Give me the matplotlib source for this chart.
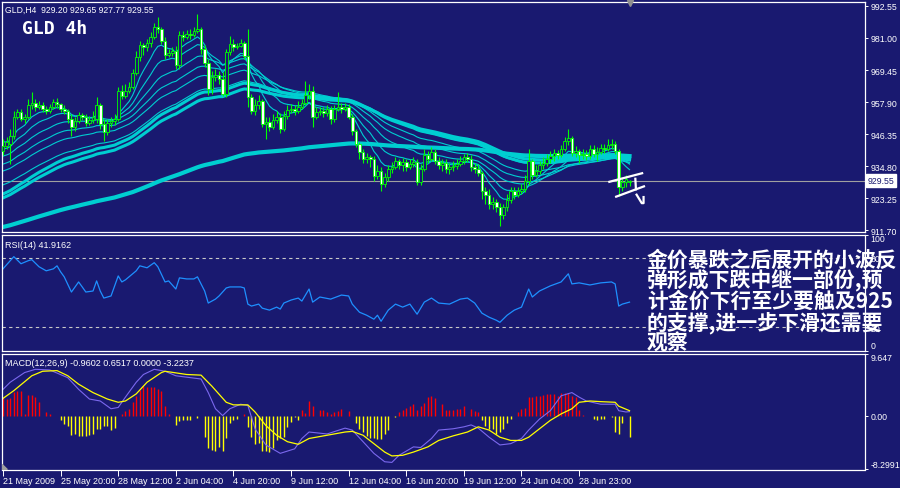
import matplotlib.pyplot as plt
from matplotlib.patches import Rectangle, Polygon

W, H = 900, 489
BG = '#191970'
CANDLE = '#00ff00'
MA_COLOR = '#00ced1'

# ---- price data (4h bars, GLD) ----
opens = [940.2, 942.0, 942.7, 945.6, 952.5, 954.3, 951.8, 952.5, 956.8, 957.5,
         956.1, 956.8, 955.4, 954.7, 956.1, 957.9, 957.2, 955.4, 954.7, 951.8,
         948.9, 951.0, 953.2, 952.5, 950.3, 951.4, 951.8, 956.8, 950.0, 947.1,
         950.3, 951.0, 951.8, 961.9, 960.1, 961.9, 963.3, 968.4, 974.2, 978.5,
         977.8, 979.2, 981.4, 985.0, 984.3, 979.9, 974.9, 975.6, 976.3, 971.3,
         982.1, 981.4, 982.5, 982.1, 983.5, 984.3, 977.0, 972.0, 962.6, 966.9,
         967.7, 966.2, 960.8, 975.9, 978.8, 977.8, 978.1, 979.2, 974.5, 959.7,
         954.7, 956.8, 958.3, 950.0, 950.7, 948.9, 951.4, 952.5, 948.2, 952.9,
         955.0, 955.4, 954.7, 956.1, 957.5, 960.4, 961.9, 952.5, 954.3, 954.7,
         953.9, 955.4, 951.8, 955.4, 956.1, 955.4, 956.1, 952.5, 947.4, 942.7,
         939.9, 937.3, 938.1, 937.3, 931.2, 933.0, 928.3, 930.8, 933.7, 934.5,
         936.6, 935.2, 936.3, 934.5, 935.5, 936.3, 929.0, 933.7, 938.8, 937.3,
         939.9, 936.6, 935.2, 935.9, 933.7, 934.5, 934.8, 935.5, 936.6, 938.1,
         937.3, 934.5, 933.7, 932.3, 925.8, 924.3, 921.1, 921.8, 920.0, 917.1,
         920.0, 922.5, 925.8, 924.3, 925.8, 926.5, 929.4, 936.6, 931.6, 933.0,
         935.2, 935.9, 937.3, 938.4, 939.5, 938.8, 940.9, 943.8, 944.9, 939.5,
         940.2, 938.8, 939.1, 938.4, 940.9, 939.1, 939.9, 941.3, 940.9, 942.4,
         942.7, 940.2, 927.2, 929.0, 929.20]
closes = [942.0, 943.5, 945.6, 952.5, 954.3, 951.8, 952.5, 956.8, 957.5, 956.1,
          956.8, 955.4, 954.7, 956.1, 957.9, 957.2, 955.4, 954.7, 951.8, 948.9,
          951.0, 953.2, 952.5, 950.3, 951.4, 952.5, 956.8, 950.0, 947.1, 950.3,
          951.0, 951.8, 961.9, 960.1, 961.9, 963.3, 968.4, 974.2, 978.5, 977.8,
          979.2, 981.4, 985.0, 984.3, 979.9, 974.9, 975.6, 976.3, 971.3, 982.1,
          981.4, 982.5, 982.1, 983.5, 984.3, 977.0, 972.0, 962.6, 966.9, 967.7,
          966.2, 960.8, 975.9, 978.8, 977.8, 978.1, 979.2, 974.5, 959.7, 954.7,
          956.8, 958.3, 950.0, 950.7, 948.9, 951.4, 952.5, 948.2, 952.9, 955.0,
          955.4, 954.7, 956.1, 957.5, 960.4, 961.9, 952.5, 954.3, 954.7, 953.9,
          955.4, 951.8, 955.4, 956.1, 955.4, 956.1, 952.5, 947.4, 942.7, 939.9,
          937.3, 938.1, 937.3, 931.2, 933.0, 928.3, 930.8, 933.7, 934.5, 936.6,
          935.2, 936.3, 934.5, 935.5, 936.3, 929.0, 933.7, 938.8, 937.3, 939.9,
          936.6, 935.2, 935.9, 933.7, 934.5, 934.8, 935.5, 936.6, 938.1, 937.3,
          934.5, 933.7, 932.3, 925.8, 924.3, 921.1, 921.8, 920.0, 917.1, 920.0,
          922.5, 925.8, 924.3, 925.8, 926.5, 929.4, 936.6, 931.6, 933.0, 935.2,
          935.9, 937.3, 938.4, 939.5, 938.8, 940.9, 943.8, 944.9, 939.5, 940.2,
          938.8, 939.1, 938.4, 940.9, 939.1, 939.9, 941.3, 940.9, 942.4, 942.7,
          940.2, 927.2, 929.0, 930.1, 929.55]
highs = [944.6, 945.3, 948.2, 954.7, 955.4, 955.4, 953.6, 959.0, 961.5, 959.0,
         958.3, 957.9, 956.5, 957.2, 959.0, 959.4, 957.5, 956.8, 955.4, 953.6,
         952.5, 954.3, 953.9, 953.6, 952.9, 954.7, 959.7, 957.5, 951.8, 951.8,
         952.5, 953.6, 963.3, 964.0, 964.4, 965.1, 969.8, 976.3, 979.9, 979.2,
         980.6, 983.2, 986.4, 988.6, 985.0, 981.4, 977.0, 977.8, 978.1, 983.5,
         983.5, 983.9, 984.3, 985.0, 989.7, 985.0, 978.5, 973.4, 969.1, 969.8,
         969.1, 968.7, 977.0, 981.7, 980.6, 979.2, 980.6, 979.9, 984.3, 960.8,
         959.0, 960.4, 959.0, 952.5, 952.5, 953.6, 954.7, 953.9, 954.7, 956.8,
         957.2, 956.8, 958.3, 959.0, 965.5, 964.4, 963.7, 956.1, 956.1, 956.1,
         956.8, 956.5, 956.8, 961.5, 957.5, 957.5, 957.2, 953.6, 948.2, 943.5,
         940.9, 939.5, 938.8, 938.4, 935.2, 934.5, 932.3, 935.2, 936.3, 938.1,
         937.3, 937.7, 937.3, 937.3, 938.1, 937.3, 935.5, 940.9, 940.2, 941.7,
         940.9, 938.1, 937.3, 937.3, 935.9, 936.6, 937.3, 938.4, 939.1, 939.5,
         938.8, 935.9, 935.5, 933.0, 927.2, 926.5, 923.6, 922.9, 921.5, 921.1,
         924.7, 927.2, 927.2, 927.2, 928.3, 931.6, 940.9, 937.3, 935.2, 936.6,
         938.1, 939.1, 940.2, 940.9, 940.6, 942.4, 945.3, 948.2, 945.6, 942.0,
         940.9, 940.9, 940.6, 942.4, 942.4, 941.7, 942.7, 942.7, 944.6, 944.6,
         943.8, 940.9, 930.8, 931.6, 929.65]
lows = [938.8, 940.9, 935.5, 944.6, 951.8, 951.0, 950.3, 951.8, 955.4, 954.7,
        955.4, 954.3, 953.6, 953.9, 955.4, 955.7, 954.3, 953.6, 950.3, 945.6,
        947.4, 950.3, 951.4, 949.2, 949.6, 950.3, 950.3, 948.2, 943.8, 946.0,
        948.9, 949.6, 951.0, 959.0, 959.4, 961.2, 962.6, 967.7, 972.7, 974.9,
        976.3, 977.8, 980.6, 982.8, 978.8, 973.4, 974.2, 974.5, 969.8, 969.8,
        979.9, 980.6, 980.6, 981.4, 982.8, 975.2, 970.5, 960.4, 960.8, 965.5,
        964.4, 960.1, 959.7, 974.9, 976.3, 977.0, 977.8, 973.4, 956.1, 953.6,
        953.2, 955.4, 948.9, 944.6, 947.4, 948.2, 950.3, 946.7, 947.4, 951.8,
        953.9, 953.2, 953.9, 955.4, 956.8, 959.0, 948.9, 951.8, 953.2, 952.5,
        952.9, 950.0, 950.7, 954.7, 953.9, 954.7, 951.8, 946.0, 941.7, 937.3,
        935.9, 935.9, 934.5, 929.4, 930.1, 925.8, 927.2, 929.4, 932.3, 933.7,
        933.7, 933.0, 933.0, 933.7, 934.5, 927.9, 927.9, 933.0, 935.9, 936.6,
        935.5, 933.7, 933.0, 932.3, 931.9, 933.0, 933.7, 934.8, 935.5, 936.3,
        933.0, 932.3, 931.2, 922.9, 921.1, 919.3, 919.3, 918.2, 913.2, 915.7,
        918.6, 921.5, 922.9, 923.6, 924.7, 925.4, 927.9, 930.1, 930.8, 931.9,
        933.7, 934.8, 935.9, 936.6, 937.3, 938.1, 940.2, 942.4, 938.4, 938.1,
        935.9, 937.3, 937.0, 937.3, 938.1, 936.6, 939.1, 939.5, 940.2, 940.9,
        939.1, 924.0, 925.8, 927.2, 927.77]

# moving averages: periods and their values at the first visible bar
ma_thin_periods = [8, 15, 25, 35, 45, 60]
ma_thin_start = [943.5, 940.9, 938.4, 935.5, 933.0, 928.0]
ma_thick_periods = [62, 70]
ma_thick_start = [924.7, 923.3]
ma_long_period = 200
ma_long_start = 912.8

price_ticks = [992.55, 981.00, 969.45, 957.90, 946.35, 934.80, 923.25, 911.70]
last_price = 929.55

# RSI(14) read at selected bars
rsi_idx = [0, 3, 5, 7, 8, 10, 12, 14, 15, 16, 17, 19, 21, 22, 23, 25, 26, 27, 28, 30,
           32, 33, 34, 37, 38, 40, 42, 43, 45, 46, 48, 49, 51, 53, 54, 56, 57, 59, 60, 62,
           63, 66, 67, 68, 69, 71, 72, 74, 76, 77, 78, 80, 82, 83, 85, 86, 88, 91, 94, 96,
           97, 99, 101, 103, 104, 105, 107, 109, 111, 113, 115, 117, 119, 121, 124, 127, 129, 131, 133, 135,
           137, 138, 140, 142, 144, 146, 147, 149, 152, 155, 157, 158, 160, 163, 166, 169, 170, 171, 172, 174]
rsi_val = [70.4, 80.9, 74.8, 77.4, 78.3, 72.2, 68.7, 70.4, 73.0, 67.8, 63.5, 50.4, 59.1, 54.8, 50.4, 51.3, 60.0, 51.3, 45.2, 47.0,
           64.3, 59.1, 60.9, 68.7, 73.0, 71.3, 75.7, 72.2, 59.1, 60.0, 53.0, 62.6, 61.7, 61.7, 63.5, 51.3, 40.9, 44.3, 47.0, 53.9,
           54.8, 54.8, 53.9, 40.0, 38.3, 40.0, 36.5, 34.8, 37.4, 35.7, 40.9, 43.5, 45.2, 42.6, 53.0, 41.7, 46.1, 44.3, 47.8, 47.0,
           40.0, 33.0, 30.4, 27.0, 30.4, 25.2, 34.8, 40.0, 37.4, 40.0, 31.3, 41.7, 45.2, 40.9, 40.0, 44.3, 45.2, 40.9, 32.2, 28.7,
           26.1, 24.3, 30.4, 34.8, 37.4, 53.0, 46.1, 51.3, 55.7, 59.1, 66.1, 57.4, 58.3, 56.5, 58.3, 59.1, 57.4, 38.3, 40.0, 41.7]

# MACD histogram, one value per bar
macd_hist = [2.7, 2.6, 2.7, 3.7, 3.9, 3.9, 0.3, 3.3, 3.3, 2.9,
             2.2, 0.0, 0.6, 0.3, 0.0, 0.0, -0.7, -1.2, -1.5, -3.0,
             -2.8, -3.1, -3.1, -3.1, -3.0, -2.8, -2.0, -2.1, -1.6, -1.6,
             -2.2, -1.9, 0.0, 0.3, 0.7, 1.1, 2.2, 3.1, 4.0, 4.6,
             4.5, 4.5, 4.5, 4.2, 3.9, 1.6, 0.3, 0.0, -1.4, -0.8,
             -0.6, -0.6, -0.6, 0.0, -0.4, 0.0, -3.3, -5.0, -5.3, -5.4,
             -4.8, -5.5, -3.5, -1.1, -0.6, -0.5, 0.0, 0.3, -1.7, -3.3,
             -4.3, -4.2, -5.5, -5.5, -5.6, -4.9, -3.8, -3.5, -3.3, -1.7,
             -1.0, -0.2, -0.7, 0.9, 0.4, 2.3, 1.5, 0.0, 0.9, 0.9,
             0.6, 0.3, 0.6, 0.7, 1.1, 0.0, 0.7, 0.0, -1.1, -2.0,
             -2.5, -3.1, -3.5, -3.5, -3.6, -3.6, -2.8, -2.2, 0.0, -0.2,
             0.6, 0.9, 1.2, 1.6, 1.8, 0.9, 1.5, 2.0, 2.9, 3.1,
             2.7, 0.0, 1.8, 0.9, 0.9, 0.9, 1.1, 1.1, 1.5, 0.0,
             1.1, 0.7, 0.6, -0.7, -1.6, -2.0, -2.0, -2.8, -2.5, -2.0,
             -1.1, -0.5, 0.0, 0.6, 1.1, 1.2, 2.9, 2.9, 3.1, 3.1,
             3.2, 3.4, 3.4, 3.4, 3.1, 3.6, 3.5, 3.6, 3.1, 2.9,
             0.9, 0.1, 0.0, 0.0, -0.5, -0.7, -0.5, -0.5, 0.0, -0.2,
             -2.5, -2.8, -1.1, 0.0, -3.2]

# MACD main line and signal line, read at selected bars
macd_idx = [0, 2, 6, 9, 13, 18, 21, 24, 27, 30, 32, 34, 37, 39, 42, 45, 48, 55, 57, 59,
            61, 63, 66, 68, 70, 73, 77, 81, 83, 85, 90, 95, 97, 100, 103, 106, 108, 110, 114, 116,
            119, 121, 125, 128, 130, 132, 135, 138, 141, 144, 146, 149, 152, 155, 158, 160, 162, 166, 170, 171,
            173, 174]
macd_val = [4.1, 5.2, 6.7, 7.2, 7.1, 5.9, 4.1, 2.6, 2.3, 1.1, 1.3, 2.9, 5.2, 6.4, 7.2, 6.9, 6.2, 5.7, 3.6, 1.1,
            0.05, 1.1, 1.8, 1.6, -2.0, -4.5, -5.8, -5.1, -3.5, -2.5, -2.8, -1.9, -2.2, -4.0, -5.8, -7.1, -7.2, -6.1, -4.8, -4.9,
            -3.5, -2.2, -2.0, -1.7, -1.4, -1.9, -3.3, -4.5, -4.3, -3.5, -2.2, -0.5, 0.8, 3.1, 3.6, 2.9, 2.3, 1.8, 1.8, 0.8,
            0.6, 0.65]
signal_idx = [0, 3, 8, 11, 15, 18, 21, 25, 29, 32, 34, 37, 40, 44, 45, 51, 55, 58, 62, 64,
              68, 70, 73, 76, 79, 82, 85, 90, 95, 97, 100, 103, 106, 108, 111, 114, 118, 121, 125, 129,
              132, 135, 138, 141, 144, 146, 149, 152, 155, 158, 160, 163, 166, 170, 171, 174]
signal_val = [2.7, 3.9, 6.2, 6.9, 7.0, 6.2, 4.9, 3.6, 2.6, 2.1, 2.3, 3.4, 5.2, 6.7, 6.9, 6.4, 6.3, 4.6, 2.1, 1.7,
              1.7, 0.6, -1.5, -3.0, -4.0, -4.4, -3.5, -3.0, -2.5, -2.4, -3.0, -4.3, -5.6, -6.2, -6.1, -5.6, -4.8, -3.8, -3.1, -2.5,
              -1.7, -2.2, -3.3, -3.8, -3.8, -3.3, -2.0, -0.7, 0.3, 1.1, 2.1, 2.3, 2.2, 2.1, 1.5, 0.8]

date_idx = [0, 16, 32, 48, 64, 80, 96, 112, 128, 144, 160]
date_labels = ['21 May 2009', '25 May 20:00', '28 May 12:00', '2 Jun 04:00', '4 Jun 20:00',
               '9 Jun 12:00', '12 Jun 04:00', '16 Jun 20:00', '19 Jun 12:00', '24 Jun 04:00',
               '28 Jun 23:00']

# hand drawn marks next to the last bars (bar index, price)
drawn_lines = [[(168.1, 929.0), (177.8, 932.3)],
               [(170.0, 923.6), (178.3, 927.6)],
               [(175.6, 930.6), (175.8, 926.0)],
               [(175.8, 924.8), (177.4, 921.4), (177.9, 921.4), (177.9, 924.0)]]

note = ['金价暴跌之后展开的小波反', '弹形成下跌中继一部份,预', '计金价下行至少要触及925',
        '的支撑,进一步下滑还需要', '观察']


def ema(values, period, start):
    k = 2.0 / (period + 1)
    out = [start]
    for v in values[1:]:
        out.append(out[-1] + k * (v - out[-1]))
    return out


def px_axes(x0, y0, x1, y1):
    ax = fig.add_axes([x0 / W, 1 - y1 / H, (x1 - x0) / W, (y1 - y0) / H])
    ax.set_facecolor(BG)
    for s in ax.spines.values():
        s.set_color('white')
        s.set_linewidth(0.9)
    ax.set_xlim(-0.28, 239.4)
    ax.tick_params(axis='x', bottom=False, labelbottom=False)
    ax.yaxis.tick_right()
    ax.tick_params(axis='y', colors='white', labelsize=6.3, length=2.5, width=0.7, pad=1.5)
    return ax


def ftext(x, y, s, **kw):
    fig.text(x / W, 1 - y / H, s, **kw)


fig = plt.figure(figsize=(W / 100, H / 100), dpi=100, facecolor=BG)

# ---------------- main price panel ----------------
ax = px_axes(2, 3, 865, 232.5)
ax.set_ylim(911.17, 993.99)
ax.set_yticks(price_ticks)
ax.set_yticklabels(['%.2f' % v for v in price_ticks], family='Liberation Sans')

n = len(closes)
idx = list(range(n))
for p, s in zip(ma_thin_periods, ma_thin_start):
    ax.plot(idx, ema(closes, p, s), color=MA_COLOR, lw=0.8, zorder=2)
for p, s in zip(ma_thick_periods, ma_thick_start):
    ax.plot(idx, ema(closes, p, s), color=MA_COLOR, lw=2.2, zorder=2)
ax.plot(idx, ema(closes, ma_long_period, ma_long_start), color=MA_COLOR, lw=3.0, zorder=2)

ax.axhline(last_price, color='#a0a0a0', lw=0.8, zorder=1)

for i in idx:
    o, c, hi, lo = opens[i], closes[i], highs[i], lows[i]
    ax.plot([i, i], [lo, hi], color=CANDLE, lw=0.8, zorder=3, solid_capstyle='butt')
    face = 'white' if c < o else BG
    ax.add_patch(Rectangle((i - 0.36, min(o, c)), 0.72, max(abs(c - o), 0.15),
                           facecolor=face, edgecolor=CANDLE, lw=0.6, zorder=4))

for seg in drawn_lines:
    xs = [p[0] for p in seg]
    ys = [p[1] for p in seg]
    ax.plot(xs, ys, color='white', lw=1.6, zorder=6, solid_capstyle='butt')

ax.text(1.003, last_price, '%.2f' % last_price, transform=ax.get_yaxis_transform(),
        color=BG, fontsize=6.3, family='Liberation Sans', va='center', ha='left',
        bbox=dict(boxstyle='square,pad=0.2', fc='white', ec='white'), zorder=10, clip_on=False)
ax.plot([174.2], [993.8], marker='v', color='#909090', ms=4.5, clip_on=False, zorder=7)

# ---------------- RSI panel ----------------
ax_rsi = px_axes(2, 235.5, 865, 351.5)
ax_rsi.set_ylim(0, 100)
ax_rsi.set_yticks([0, 20, 80, 100])
ax_rsi.set_yticklabels(['0', '20', '80', '100'], family='Liberation Sans')
labs = ax_rsi.get_yticklabels()
labs[0].set_va('bottom')
labs[-1].set_va('top')
for lev in (20, 80):
    ax_rsi.axhline(lev, color='#c8c8c8', lw=0.8, ls=(0, (3, 3)))
ax_rsi.plot(rsi_idx, rsi_val, color='#1e90ff', lw=0.9)

# ---------------- MACD panel ----------------
ax_m = px_axes(2, 354.5, 865, 470.5)
ax_m.set_ylim(-8.2991, 9.647)
ax_m.set_yticks([-8.2991, 0, 9.647])
ax_m.set_yticklabels(['-8.2991', '0.00', '9.647'], family='Liberation Sans')
labs = ax_m.get_yticklabels()
labs[0].set_va('bottom')
labs[-1].set_va('top')
hist_colors = ['#ff0000' if v > 0 else '#ffff00' for v in macd_hist]
ax_m.vlines(idx, 0, macd_hist, colors=hist_colors, lw=1.0)
ax_m.plot(macd_idx, macd_val, color='#7b68ee', lw=0.8)
ax_m.plot(signal_idx, signal_val, color='#ffff00', lw=0.9)
ax_m.set_xticks(date_idx)
ax_m.set_xticklabels(date_labels, family='Liberation Sans')
ax_m.tick_params(axis='x', bottom=True, labelbottom=True, colors='white', labelsize=6.5,
                 length=4, width=0.7, pad=1)
for lbl in ax_m.get_xticklabels():
    lbl.set_ha('left')
ax_m.add_patch(Polygon([(-0.28, -8.2991), (1.2, -8.2991), (-0.28, -7.5)], closed=True,
                       color='#a0a0a0', zorder=5))

# ---------------- texts ----------------
ftext(5, 10, 'GLD,H4  929.20 929.65 927.77 929.55', color='white', fontsize=6.2,
      family='Liberation Sans', va='center')
ftext(22, 29, 'GLD 4h', color='white', fontsize=13, family='DejaVu Sans Mono',
      weight='bold', va='center')
ftext(5, 245, 'RSI(14) 41.9162', color='white', fontsize=6.5, family='Liberation Sans', va='center')
ftext(5, 364, 'MACD(12,26,9) -0.9602 0.6517 0.0000 -3.2237', color='white', fontsize=6.5,
      family='Liberation Sans', va='center')

for k, line in enumerate(note):
    ftext(647, 260 + k * 20.8, line, color='white', fontsize=15,
          family=['Noto Sans CJK SC', 'DejaVu Sans'], weight='bold', va='center', zorder=20)

fig.savefig('out.png', dpi=100, facecolor=BG)
